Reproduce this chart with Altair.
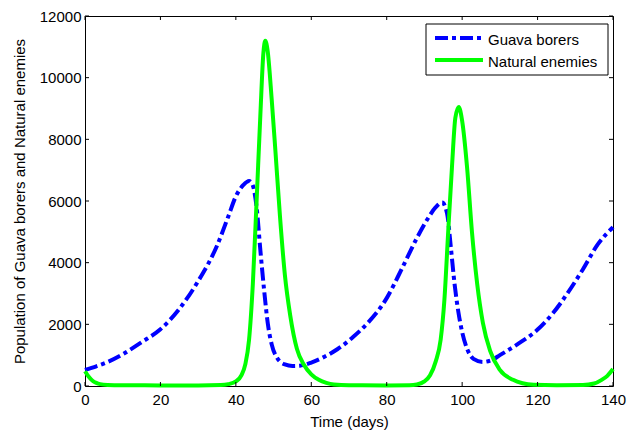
import altair as alt
import pandas as pd

series_names = ["Guava borers", "Natural enemies"]
series_colors = ["#0000FF", "#00FF00"]

borer_t = [0, 3, 6, 10, 15, 20, 25, 30, 35, 38, 40, 42, 43.5, 44.5, 45.5, 46.5, 47.5, 48.5, 49.5, 51, 53, 55, 57, 60, 63, 67, 71, 75, 80, 84, 88, 91, 93, 94.7, 96, 97, 98, 99, 100, 101.5, 103, 105.5, 108, 110, 115, 120, 124, 128, 132, 136, 140]
borer_v = [520, 640, 780, 1030, 1420, 1840, 2500, 3400, 4550, 5500, 6150, 6520, 6650, 6500, 5800, 4400, 3100, 2000, 1350, 900, 700, 650, 660, 760, 920, 1200, 1580, 2050, 2850, 3800, 4800, 5450, 5800, 5950, 5600, 4500, 3300, 2400, 1750, 1150, 880, 780, 850, 1000, 1380, 1830, 2350, 3020, 3780, 4600, 5150]

enemy_t = [0, 1, 2, 3, 4, 6, 10, 20, 30, 36, 38, 40, 41.5, 42.5, 43.5, 44.5, 45.5, 46.5, 47.3, 47.8, 48.4, 49.5, 50.5, 51.7, 53, 54.4, 56.2, 58, 60, 62, 64, 66, 70, 80, 86, 88, 90, 91.5, 93, 94.3, 95.3, 96.3, 97.3, 98.2, 99.1, 100, 101.3, 102.6, 104, 105.5, 107.4, 110, 113.5, 116, 119, 125, 132, 135, 137, 138.5, 140]
enemy_v = [480, 300, 170, 100, 60, 35, 25, 20, 20, 30, 60, 150, 350, 700, 1500, 3300, 6000, 8800, 10800, 11200, 10900, 9300, 7600, 5500, 3600, 2300, 1200, 700, 380, 200, 100, 50, 25, 20, 25, 50, 150, 350, 800, 1500, 2800, 5000, 7100, 8700, 9050, 8600, 7100, 5000, 3300, 2050, 1150, 520, 200, 90, 40, 25, 30, 80, 200, 330, 550]

x_ticks = [0, 20, 40, 60, 80, 100, 120, 140]
y_ticks = [0, 2000, 4000, 6000, 8000, 10000, 12000]

W, H = 528, 370
FONT = "Liberation Sans"
DASH = [13, 4, 4, 4]

xscale = alt.Scale(domain=[0, 140], nice=False, zero=False)
yscale = alt.Scale(domain=[0, 12000], nice=False)

borer_df = pd.DataFrame({"t": borer_t, "v": borer_v})
enemy_df = pd.DataFrame({"t": enemy_t, "v": enemy_v})

xaxis = alt.Axis(values=x_ticks, title="Time (days)", ticks=False, domain=False, grid=False,
                 labelPadding=6, labelFlush=False, format="d",
                 titleY=40, titleBaseline="alphabetic")
yaxis = alt.Axis(values=y_ticks, title="Population of Guava borers and Natural enemies",
                 ticks=False, domain=False, grid=False, labelPadding=4, labelFlush=False,
                 titlePadding=12, format="d")

borer_line = alt.Chart(borer_df).mark_line(
    color=series_colors[0], strokeWidth=4, strokeDash=DASH, interpolate="monotone"
).encode(
    x=alt.X("t:Q", scale=xscale, axis=xaxis),
    y=alt.Y("v:Q", scale=yscale, axis=yaxis),
)

enemy_line = alt.Chart(enemy_df).mark_line(
    color=series_colors[1], strokeWidth=4, interpolate="monotone"
).encode(
    x=alt.X("t:Q", scale=xscale),
    y=alt.Y("v:Q", scale=yscale),
)

xt_df = pd.DataFrame({"t": x_ticks})
yt_df = pd.DataFrame({"v": y_ticks})
tick_style = dict(color="black", strokeWidth=1)

xt_bottom = alt.Chart(xt_df).mark_rule(**tick_style).encode(
    x=alt.X("t:Q", scale=xscale), y=alt.value(H), y2=alt.value(H - 4))
xt_top = alt.Chart(xt_df).mark_rule(**tick_style).encode(
    x=alt.X("t:Q", scale=xscale), y=alt.value(0), y2=alt.value(4))
yt_left = alt.Chart(yt_df).mark_rule(**tick_style).encode(
    y=alt.Y("v:Q", scale=yscale), x=alt.value(0), x2=alt.value(4))
yt_right = alt.Chart(yt_df).mark_rule(**tick_style).encode(
    y=alt.Y("v:Q", scale=yscale), x=alt.value(W), x2=alt.value(W - 4))

one = pd.DataFrame({"a": [0]})
leg_box = alt.Chart(one).mark_rect(fill="white", stroke="black", strokeWidth=1).encode(
    x=alt.value(341), x2=alt.value(523), y=alt.value(8), y2=alt.value(59))
leg_sym1 = alt.Chart(one).mark_rule(color=series_colors[0], strokeWidth=4, strokeDash=DASH).encode(
    x=alt.value(350), x2=alt.value(398), y=alt.value(22))
leg_sym2 = alt.Chart(one).mark_rule(color=series_colors[1], strokeWidth=4).encode(
    x=alt.value(350), x2=alt.value(398), y=alt.value(44))
leg_txt1 = alt.Chart(one).mark_text(align="left", baseline="middle", font=FONT, fontSize=15, color="black").encode(
    x=alt.value(403), y=alt.value(23.5), text=alt.value(series_names[0]))
leg_txt2 = alt.Chart(one).mark_text(align="left", baseline="middle", font=FONT, fontSize=15, color="black").encode(
    x=alt.value(403), y=alt.value(45.5), text=alt.value(series_names[1]))

chart = alt.layer(
    borer_line, enemy_line, xt_bottom, xt_top, yt_left, yt_right,
    leg_box, leg_sym1, leg_sym2, leg_txt1, leg_txt2
).properties(
    width=W, height=H,
    autosize=alt.AutoSizeParams(type="none"),
    padding={"left": 77, "top": 8, "right": 16, "bottom": 46},
    background="white",
).configure_view(
    stroke="black", strokeWidth=1
).configure_axis(
    labelFont=FONT, labelFontSize=15, labelColor="black",
    titleFont=FONT, titleFontSize=15, titleFontWeight="normal", titleColor="black",
)

chart.save("out.html", embed_options={"renderer": "svg", "actions": False})
